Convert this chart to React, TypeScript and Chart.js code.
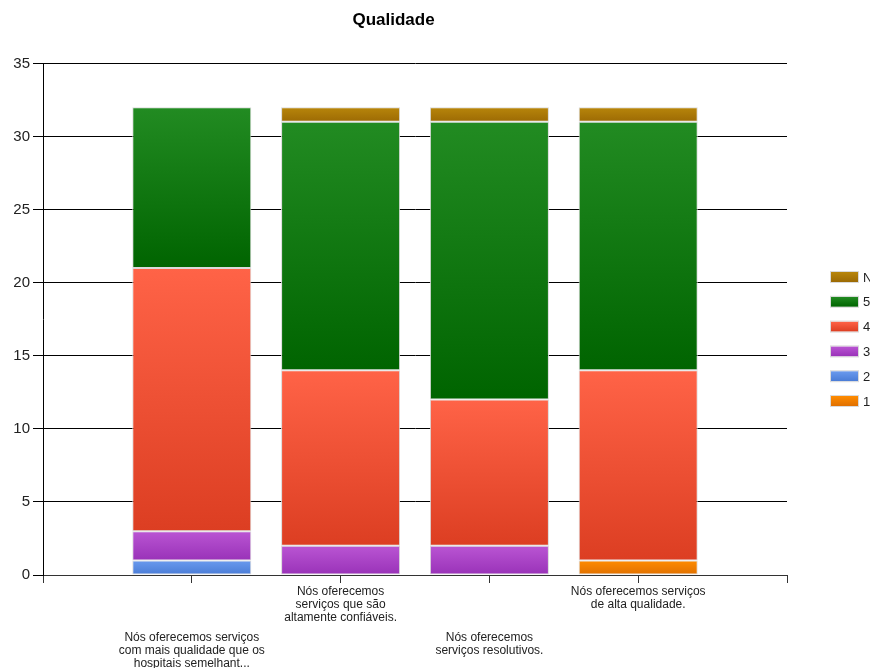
import React, { useEffect, useRef } from "react";
import { Chart, registerables } from "chart.js";

Chart.register(...registerables);

const categories = [
  ["Nós oferecemos serviços", "com mais qualidade que os", "hospitais semelhant..."],
  ["Nós oferecemos", "serviços que são", "altamente confiáveis."],
  ["Nós oferecemos", "serviços resolutivos."],
  ["Nós oferecemos serviços", "de alta qualidade."],
];

const seriesNames = ["1", "2", "3", "4", "5", "N"];
const s1 = [0, 0, 0, 1];
const s2 = [1, 0, 0, 0];
const s3 = [2, 2, 2, 0];
const s4 = [18, 12, 10, 13];
const s5 = [11, 17, 19, 17];
const sN = [0, 1, 1, 1];
const seriesValues = [s1, s2, s3, s4, s5, sN];

const colorTop = ["#FF8C00", "#6A9AEE", "#BA55D3", "#FF6347", "#228B22", "#B8860B"];
const colorBottom = ["#E07000", "#4A7CD6", "#9932B8", "#DC3E22", "#006400", "#9C6A04"];

const yTicks = [0, 5, 10, 15, 20, 25, 30, 35];

export default function App() {
  const ref = useRef<HTMLCanvasElement | null>(null);

  useEffect(() => {
    if (!ref.current) return;
    const labels = ["", "c1", "c2", "c3", "c4", ""];

    const datasets = seriesValues.map((vals, si) => ({
      label: seriesNames[si],
      data: [null, ...vals.map((v) => (v === 0 ? null : v)), null],
      borderColor: "#DADADA",
      borderWidth: 1,
      borderSkipped: false,
      barPercentage: 0.8,
      categoryPercentage: 1,
      backgroundColor: (ctx: any) => {
        const chart = ctx.chart;
        const ys = chart.scales && chart.scales.y;
        if (!ys || ctx.dataIndex == null || ctx.type !== "data") return colorTop[si];
        const ci = ctx.dataIndex - 1;
        if (ci < 0 || ci >= 4) return colorTop[si];
        let start = 0;
        for (let k = 0; k < si; k++) start += seriesValues[k][ci];
        const end = start + seriesValues[si][ci];
        const y0 = ys.getPixelForValue(end);
        const y1 = ys.getPixelForValue(start);
        if (!isFinite(y0) || !isFinite(y1) || y0 === y1) return colorTop[si];
        const g = chart.ctx.createLinearGradient(0, y0, 0, y1);
        g.addColorStop(0, colorTop[si]);
        g.addColorStop(1, colorBottom[si]);
        return g;
      },
    }));

    const overlay = {
      id: "overlay",
      afterDraw(chart: any) {
        const c = chart.ctx;
        const xs = chart.scales.x;
        c.save();
        c.fillStyle = "#222";
        c.font = "12px 'Liberation Sans', Arial, sans-serif";
        c.textAlign = "center";
        c.textBaseline = "middle";
        categories.forEach((lines, i) => {
          const x = xs.getPixelForValue(i + 1);
          const top = i % 2 === 0 ? 638 : 592;
          lines.forEach((ln, j) => c.fillText(ln, x, top + j * 13));
        });
        c.font = "13px 'Liberation Sans', Arial, sans-serif";
        c.textAlign = "left";
        const order = [5, 4, 3, 2, 1, 0];
        order.forEach((si, k) => {
          const yc = 277 + k * 24.8;
          const g = c.createLinearGradient(0, yc - 5, 0, yc + 5);
          g.addColorStop(0, colorTop[si]);
          g.addColorStop(1, colorBottom[si]);
          c.fillStyle = g;
          c.fillRect(831, yc - 5, 27, 10);
          c.strokeStyle = "#DADADA";
          c.lineWidth = 1;
          c.strokeRect(830.5, yc - 5.5, 28, 11);
          c.fillStyle = "#222";
          c.fillText(seriesNames[si], 863, yc + 1);
        });
        c.restore();
      },
    };

    const chart = new Chart(ref.current, {
      type: "bar",
      data: { labels, datasets: datasets as any },
      plugins: [overlay],
      options: {
        animation: false,
        responsive: false,
        maintainAspectRatio: false,
        layout: { padding: { left: 0, right: 83, top: 0, bottom: 0 } },
        plugins: {
          legend: { display: false },
          tooltip: { enabled: false },
          title: {
            display: true,
            text: "Qualidade",
            color: "#000",
            font: { family: "'Liberation Sans', Arial, sans-serif", size: 17, weight: "bold" },
            padding: { top: 10, bottom: 33 },
          },
        },
        scales: {
          x: {
            stacked: true,
            offset: false,
            grid: {
              display: true,
              offset: false,
              drawOnChartArea: false,
              drawTicks: true,
              tickLength: 8,
              color: "#333",
            },
            border: { display: true, color: "#333", width: 1 },
            ticks: { display: true, autoSkip: false, maxRotation: 0, callback: () => "" },
            afterFit: (s: any) => {
              s.height = 93;
            },
          },
          y: {
            stacked: true,
            min: 0,
            max: 35,
            afterBuildTicks: (s: any) => {
              s.ticks = yTicks.map((v) => ({ value: v }));
            },
            grid: { color: "#000", tickLength: 10, lineWidth: 1 },
            border: { display: true, color: "#000" },
            ticks: {
              color: "#222",
              padding: 3,
              font: { family: "'Liberation Sans', Arial, sans-serif", size: 15 },
            },
            afterFit: (s: any) => {
              s.width = 43;
            },
          },
        },
      },
    });
    return () => chart.destroy();
  }, []);

  return (
    <div style={{ position: "fixed", left: 0, top: 0, width: 870, height: 668, background: "#fff" }}>
      <canvas ref={ref} width={870} height={668} style={{ width: 870, height: 668 }} />
    </div>
  );
}
